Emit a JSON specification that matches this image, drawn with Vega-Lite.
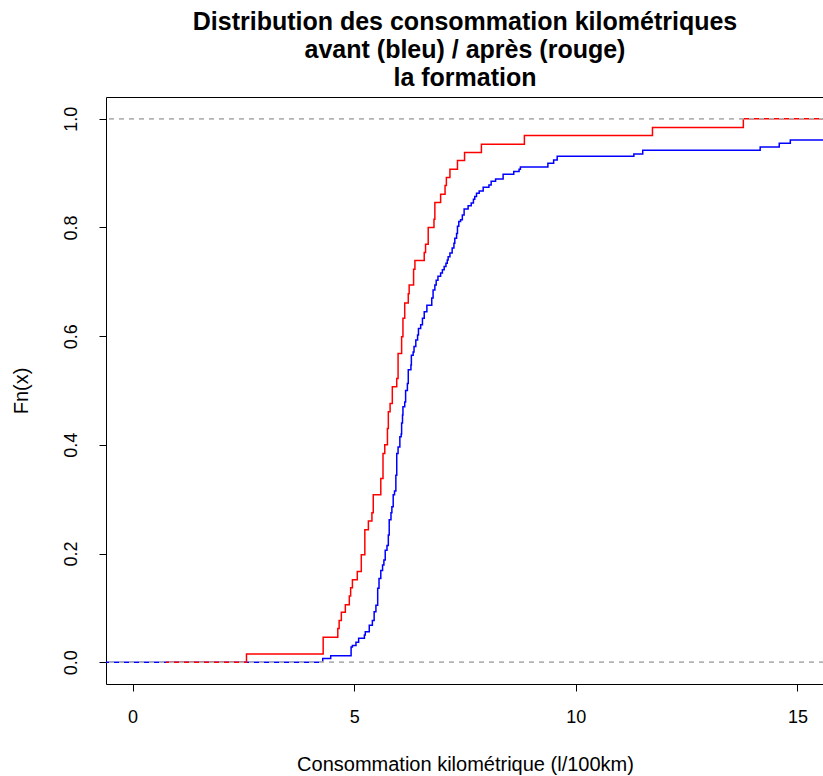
{
  "$schema": "https://vega.github.io/schema/vega-lite/v6.json",
  "width": 718,
  "height": 587,
  "autosize": {"type": "none"},
  "padding": {"left": 106, "top": 97, "right": 0, "bottom": 92},
  "background": "white",
  "config": {"view": {"stroke": "#000", "strokeWidth": 1}, "font": "Liberation Sans"},
  "title": {
    "text": ["Distribution des consommation kilométriques", "avant (bleu) / après (rouge)", "la formation"],
    "anchor": "middle",
    "frame": "group",
    "font": "Liberation Sans",
    "fontSize": 25,
    "fontWeight": "bold",
    "lineHeight": 28,
    "baseline": "bottom",
    "offset": -19,
    "color": "#000"
  },
  "datasets": {
    "curves": [
      {"serie": "avant", "x": -1, "F": 0},
      {"serie": "avant", "x": 4.29, "F": 0.007},
      {"serie": "avant", "x": 4.47, "F": 0.012},
      {"serie": "avant", "x": 4.93, "F": 0.028},
      {"serie": "avant", "x": 4.96, "F": 0.031},
      {"serie": "avant", "x": 5.04, "F": 0.037},
      {"serie": "avant", "x": 5.10, "F": 0.044},
      {"serie": "avant", "x": 5.23, "F": 0.050},
      {"serie": "avant", "x": 5.25, "F": 0.056},
      {"serie": "avant", "x": 5.34, "F": 0.068},
      {"serie": "avant", "x": 5.41, "F": 0.077},
      {"serie": "avant", "x": 5.45, "F": 0.093},
      {"serie": "avant", "x": 5.49, "F": 0.105},
      {"serie": "avant", "x": 5.53, "F": 0.136},
      {"serie": "avant", "x": 5.56, "F": 0.154},
      {"serie": "avant", "x": 5.60, "F": 0.169},
      {"serie": "avant", "x": 5.64, "F": 0.179},
      {"serie": "avant", "x": 5.67, "F": 0.188},
      {"serie": "avant", "x": 5.70, "F": 0.206},
      {"serie": "avant", "x": 5.74, "F": 0.215},
      {"serie": "avant", "x": 5.77, "F": 0.234},
      {"serie": "avant", "x": 5.79, "F": 0.262},
      {"serie": "avant", "x": 5.83, "F": 0.275},
      {"serie": "avant", "x": 5.85, "F": 0.286},
      {"serie": "avant", "x": 5.88, "F": 0.308},
      {"serie": "avant", "x": 5.91, "F": 0.315},
      {"serie": "avant", "x": 5.94, "F": 0.344},
      {"serie": "avant", "x": 5.96, "F": 0.384},
      {"serie": "avant", "x": 5.99, "F": 0.396},
      {"serie": "avant", "x": 6.03, "F": 0.415},
      {"serie": "avant", "x": 6.06, "F": 0.420},
      {"serie": "avant", "x": 6.07, "F": 0.440},
      {"serie": "avant", "x": 6.09, "F": 0.455},
      {"serie": "avant", "x": 6.10, "F": 0.470},
      {"serie": "avant", "x": 6.14, "F": 0.479},
      {"serie": "avant", "x": 6.16, "F": 0.500},
      {"serie": "avant", "x": 6.20, "F": 0.513},
      {"serie": "avant", "x": 6.22, "F": 0.538},
      {"serie": "avant", "x": 6.28, "F": 0.547},
      {"serie": "avant", "x": 6.29, "F": 0.565},
      {"serie": "avant", "x": 6.33, "F": 0.571},
      {"serie": "avant", "x": 6.35, "F": 0.581},
      {"serie": "avant", "x": 6.39, "F": 0.593},
      {"serie": "avant", "x": 6.43, "F": 0.602},
      {"serie": "avant", "x": 6.45, "F": 0.614},
      {"serie": "avant", "x": 6.50, "F": 0.621},
      {"serie": "avant", "x": 6.54, "F": 0.633},
      {"serie": "avant", "x": 6.58, "F": 0.645},
      {"serie": "avant", "x": 6.64, "F": 0.657},
      {"serie": "avant", "x": 6.75, "F": 0.670},
      {"serie": "avant", "x": 6.78, "F": 0.685},
      {"serie": "avant", "x": 6.82, "F": 0.694},
      {"serie": "avant", "x": 6.85, "F": 0.703},
      {"serie": "avant", "x": 6.89, "F": 0.710},
      {"serie": "avant", "x": 6.95, "F": 0.716},
      {"serie": "avant", "x": 6.99, "F": 0.722},
      {"serie": "avant", "x": 7.03, "F": 0.728},
      {"serie": "avant", "x": 7.07, "F": 0.734},
      {"serie": "avant", "x": 7.10, "F": 0.740},
      {"serie": "avant", "x": 7.12, "F": 0.746},
      {"serie": "avant", "x": 7.16, "F": 0.753},
      {"serie": "avant", "x": 7.21, "F": 0.762},
      {"serie": "avant", "x": 7.25, "F": 0.771},
      {"serie": "avant", "x": 7.27, "F": 0.780},
      {"serie": "avant", "x": 7.31, "F": 0.789},
      {"serie": "avant", "x": 7.33, "F": 0.802},
      {"serie": "avant", "x": 7.36, "F": 0.811},
      {"serie": "avant", "x": 7.40, "F": 0.814},
      {"serie": "avant", "x": 7.44, "F": 0.823},
      {"serie": "avant", "x": 7.48, "F": 0.834},
      {"serie": "avant", "x": 7.57, "F": 0.840},
      {"serie": "avant", "x": 7.64, "F": 0.845},
      {"serie": "avant", "x": 7.69, "F": 0.852},
      {"serie": "avant", "x": 7.72, "F": 0.857},
      {"serie": "avant", "x": 7.76, "F": 0.863},
      {"serie": "avant", "x": 7.82, "F": 0.867},
      {"serie": "avant", "x": 7.91, "F": 0.874},
      {"serie": "avant", "x": 8.04, "F": 0.878},
      {"serie": "avant", "x": 8.09, "F": 0.885},
      {"serie": "avant", "x": 8.19, "F": 0.889},
      {"serie": "avant", "x": 8.36, "F": 0.898},
      {"serie": "avant", "x": 8.60, "F": 0.903},
      {"serie": "avant", "x": 8.72, "F": 0.907},
      {"serie": "avant", "x": 8.75, "F": 0.911},
      {"serie": "avant", "x": 9.37, "F": 0.918},
      {"serie": "avant", "x": 9.50, "F": 0.924},
      {"serie": "avant", "x": 9.58, "F": 0.931},
      {"serie": "avant", "x": 11.31, "F": 0.935},
      {"serie": "avant", "x": 11.51, "F": 0.942},
      {"serie": "avant", "x": 14.16, "F": 0.948},
      {"serie": "avant", "x": 14.59, "F": 0.955},
      {"serie": "avant", "x": 14.84, "F": 0.961},
      {"serie": "avant", "x": 16.5, "F": 0.961},
      {"serie": "après", "x": 0.75, "F": 0},
      {"serie": "après", "x": 2.57, "F": 0.015},
      {"serie": "après", "x": 4.30, "F": 0.046},
      {"serie": "après", "x": 4.63, "F": 0.062},
      {"serie": "après", "x": 4.66, "F": 0.077},
      {"serie": "après", "x": 4.71, "F": 0.092},
      {"serie": "après", "x": 4.80, "F": 0.106},
      {"serie": "après", "x": 4.89, "F": 0.122},
      {"serie": "après", "x": 4.92, "F": 0.137},
      {"serie": "après", "x": 4.96, "F": 0.152},
      {"serie": "après", "x": 5.07, "F": 0.167},
      {"serie": "après", "x": 5.16, "F": 0.198},
      {"serie": "après", "x": 5.24, "F": 0.244},
      {"serie": "après", "x": 5.32, "F": 0.260},
      {"serie": "après", "x": 5.40, "F": 0.275},
      {"serie": "après", "x": 5.43, "F": 0.308},
      {"serie": "après", "x": 5.60, "F": 0.338},
      {"serie": "après", "x": 5.65, "F": 0.384},
      {"serie": "après", "x": 5.69, "F": 0.400},
      {"serie": "après", "x": 5.75, "F": 0.430},
      {"serie": "après", "x": 5.77, "F": 0.461},
      {"serie": "après", "x": 5.81, "F": 0.476},
      {"serie": "après", "x": 5.86, "F": 0.507},
      {"serie": "après", "x": 5.96, "F": 0.522},
      {"serie": "après", "x": 5.99, "F": 0.568},
      {"serie": "après", "x": 6.07, "F": 0.599},
      {"serie": "après", "x": 6.10, "F": 0.633},
      {"serie": "après", "x": 6.14, "F": 0.661},
      {"serie": "après", "x": 6.22, "F": 0.678},
      {"serie": "après", "x": 6.24, "F": 0.694},
      {"serie": "après", "x": 6.34, "F": 0.723},
      {"serie": "après", "x": 6.37, "F": 0.739},
      {"serie": "après", "x": 6.58, "F": 0.754},
      {"serie": "après", "x": 6.61, "F": 0.769},
      {"serie": "après", "x": 6.67, "F": 0.800},
      {"serie": "après", "x": 6.80, "F": 0.815},
      {"serie": "après", "x": 6.82, "F": 0.846},
      {"serie": "après", "x": 6.95, "F": 0.861},
      {"serie": "après", "x": 7.05, "F": 0.877},
      {"serie": "après", "x": 7.08, "F": 0.892},
      {"serie": "après", "x": 7.16, "F": 0.907},
      {"serie": "après", "x": 7.33, "F": 0.923},
      {"serie": "après", "x": 7.49, "F": 0.938},
      {"serie": "après", "x": 7.87, "F": 0.953},
      {"serie": "après", "x": 8.84, "F": 0.969},
      {"serie": "après", "x": 11.73, "F": 0.984},
      {"serie": "après", "x": 13.78, "F": 1.0},
      {"serie": "après", "x": 16.5, "F": 1.0}
    ],
    "reflines": [{"F": 0}, {"F": 1}]
  },
  "encoding": {
    "y": {
      "field": "F",
      "type": "quantitative",
      "scale": {"domain": [-0.04, 1.04], "nice": false, "zero": false},
      "axis": {
        "title": "Fn(x)",
        "values": [0, 0.2, 0.4, 0.6, 0.8, 1],
        "format": ".1f",
        "grid": false,
        "domain": false,
        "tickSize": 7,
        "tickColor": "#000",
        "labelAngle": -90,
        "labelAlign": "center",
        "labelBaseline": "bottom",
        "labelPadding": 19,
        "labelFont": "Liberation Sans",
        "labelFontSize": 18,
        "labelColor": "#000",
        "titleFont": "Liberation Sans",
        "titleFontSize": 20,
        "titleFontWeight": "normal",
        "titleColor": "#000",
        "titlePadding": 31
      }
    }
  },
  "layer": [
    {
      "data": {"name": "curves"},
      "transform": [{"filter": "datum.serie === 'avant'"}],
      "mark": {"type": "line", "interpolate": "step-after", "color": "#0000FF", "strokeWidth": 1.5, "clip": true},
      "encoding": {
        "x": {
          "field": "x",
          "type": "quantitative",
          "scale": {"domain": [-0.6, 15.6], "nice": false, "zero": false},
          "axis": {
            "title": "Consommation kilométrique (l/100km)",
            "values": [0, 5, 10, 15],
            "grid": false,
            "domain": false,
            "tickSize": 7,
            "tickColor": "#000",
            "labelPadding": 17,
            "labelFont": "Liberation Sans",
            "labelFontSize": 18,
            "labelColor": "#000",
            "labelFlush": false,
            "labelOverlap": false,
            "titleFont": "Liberation Sans",
            "titleFontSize": 20,
            "titleFontWeight": "normal",
            "titleColor": "#000",
            "titlePadding": 28
          }
        }
      }
    },
    {
      "data": {"name": "reflines"},
      "mark": {"type": "rule", "color": "#B3B3B3", "strokeDash": [5, 5], "strokeWidth": 1.3},
      "encoding": {}
    },
    {
      "data": {"name": "curves"},
      "transform": [{"filter": "datum.serie === 'après'"}],
      "mark": {"type": "line", "interpolate": "step-after", "color": "#FF0000", "strokeWidth": 1.5, "clip": true},
      "encoding": {
        "x": {
          "field": "x",
          "type": "quantitative",
          "scale": {"domain": [-0.6, 15.6], "nice": false, "zero": false},
          "axis": {
            "title": "Consommation kilométrique (l/100km)",
            "values": [0, 5, 10, 15],
            "grid": false,
            "domain": false,
            "tickSize": 7,
            "tickColor": "#000",
            "labelPadding": 17,
            "labelFont": "Liberation Sans",
            "labelFontSize": 18,
            "labelColor": "#000",
            "labelFlush": false,
            "labelOverlap": false,
            "titleFont": "Liberation Sans",
            "titleFontSize": 20,
            "titleFontWeight": "normal",
            "titleColor": "#000",
            "titlePadding": 28
          }
        }
      }
    },
    {
      "data": {"name": "reflines"},
      "mark": {"type": "rule", "color": "#B3B3B3", "strokeDash": [5, 5], "strokeWidth": 1.3},
      "encoding": {}
    }
  ]
}
